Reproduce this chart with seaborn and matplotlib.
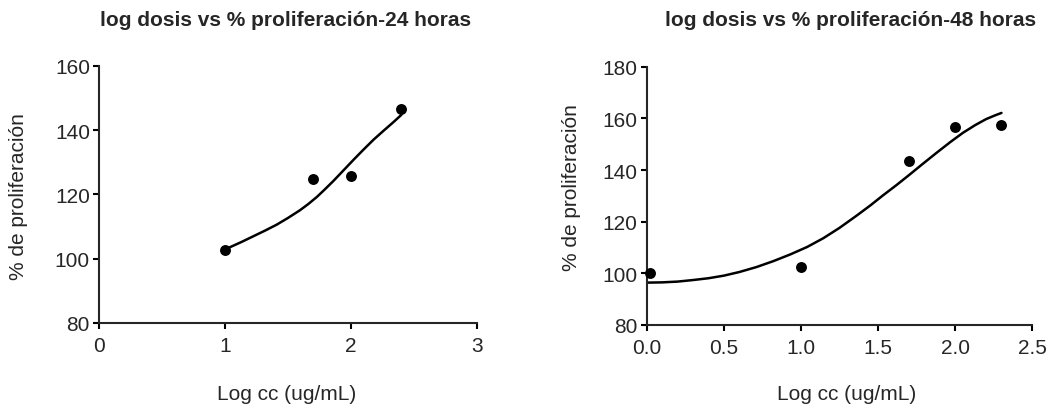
import numpy as np
import pandas as pd
import matplotlib
matplotlib.use("Agg")
import matplotlib.pyplot as plt
import seaborn as sns
from matplotlib.ticker import FormatStrFormatter

# measured points, 24 h
log_cc_24 = [1.0, 1.7, 2.0, 2.4]
prolif_24 = [102.8, 124.9, 125.7, 146.6]
# fitted curve, 24 h
fit_x_24 = [1.0, 1.04, 1.13, 1.225, 1.32, 1.41, 1.5, 1.595, 1.66, 1.728, 1.79, 1.86,
            1.94, 2.02, 2.1, 2.18, 2.26, 2.336, 2.4]
fit_y_24 = [102.9, 103.6, 105.2, 107.0, 108.8, 110.6, 112.7, 115.1, 117.0, 119.2, 121.5, 124.2,
            127.5, 130.8, 134.0, 137.1, 139.9, 142.5, 144.8]

# measured points, 48 h
log_cc_48 = [0.02, 1.0, 1.7, 2.0, 2.3]
prolif_48 = [100.3, 102.4, 143.4, 156.5, 157.5]
# fitted curve, 48 h
fit_x_48 = [0.0, 0.1, 0.2, 0.3, 0.4, 0.5, 0.6, 0.71, 0.82, 0.93, 1.04, 1.145, 1.25,
            1.36, 1.45, 1.53, 1.62, 1.706, 1.79, 1.88, 1.97, 2.05, 2.13, 2.2, 2.26, 2.3]
fit_y_48 = [96.4, 96.5, 96.8, 97.4, 98.1, 99.1, 100.5, 102.4, 104.7, 107.3, 110.2, 113.6, 117.6,
            122.3, 126.3, 130.1, 134.2, 138.3, 142.4, 146.7, 150.9, 154.4, 157.4, 159.7, 161.2, 162.1]

titles = ["log dosis vs % proliferación-24 horas", "log dosis vs % proliferación-48 horas"]
xlabel = "Log cc (ug/mL)"
ylabel = "% de proliferación"

sns.set_style("ticks")
plt.rcParams["font.family"] = ["Liberation Sans", "DejaVu Sans"]

fig = plt.figure(figsize=(10.6, 4.1), dpi=100)
ax1 = fig.add_axes([0.0934, 0.2098, 0.3566, 0.6268])
ax2 = fig.add_axes([0.6101, 0.2049, 0.3638, 0.6300])

panels = [
    (ax1, log_cc_24, prolif_24, fit_x_24, fit_y_24, (0, 3), (80, 160), [0, 1, 2, 3], [80, 100, 120, 140, 160]),
    (ax2, log_cc_48, prolif_48, fit_x_48, fit_y_48, (0, 2.5), (80, 180), [0.0, 0.5, 1.0, 1.5, 2.0, 2.5],
     [80, 100, 120, 140, 160, 180]),
]

for ax, px, py, fx, fy, xlim, ylim, xt, yt in panels:
    sns.lineplot(x=fx, y=fy, ax=ax, color="black", linewidth=1.8, errorbar=None)
    sns.scatterplot(x=px, y=py, ax=ax, color="black", s=62, edgecolor="black", linewidth=0, zorder=5, clip_on=False)
    ax.set_xlim(*xlim)
    ax.set_ylim(*ylim)
    ax.set_xticks(xt)
    ax.set_yticks(yt)
    sns.despine(ax=ax)
    for sp in ["left", "bottom"]:
        ax.spines[sp].set_linewidth(1.5)
    ax.tick_params(axis="both", direction="out", length=4.5, width=1.5, labelsize=15, color="black")
    ax.tick_params(axis="x", pad=5)
    ax.tick_params(axis="y", pad=2)
    ax.set_xlabel(xlabel, fontsize=15)
    ax.set_ylabel(ylabel, fontsize=15)
    ax.xaxis.label.set_va("center")
    ax.yaxis.label.set_va("center")

ax2.xaxis.set_major_formatter(FormatStrFormatter("%.1f"))

ax1.xaxis.set_label_coords(0.497, -0.276)
ax1.yaxis.set_label_coords(-0.214, 0.494)
ax2.xaxis.set_label_coords(0.519, -0.267)
ax2.yaxis.set_label_coords(-0.1945, 0.534)

fig.text(286 / 1060, 1 - 20 / 410, titles[0], ha="center", va="center", fontsize=15, fontweight="bold")
fig.text(851 / 1060, 1 - 20 / 410, titles[1], ha="center", va="center", fontsize=15, fontweight="bold")

fig.savefig("out.png", dpi=100)
